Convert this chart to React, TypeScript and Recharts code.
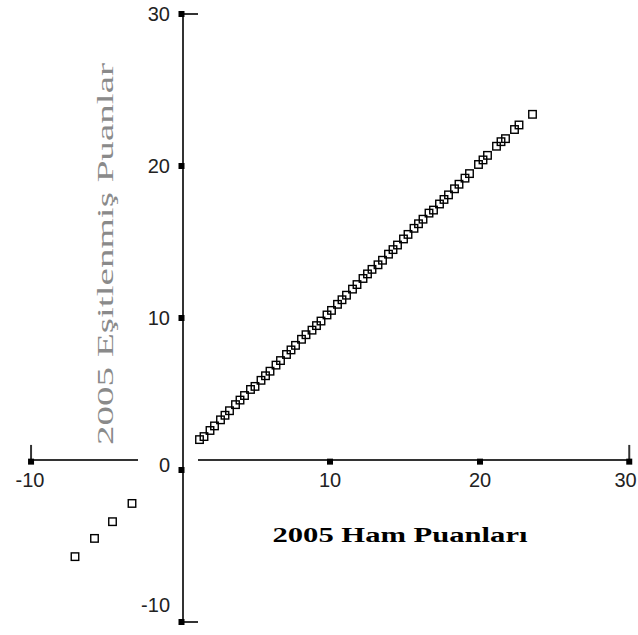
import React from 'react';
import { ScatterChart, Scatter, XAxis, YAxis, ReferenceLine, ReferenceDot } from 'recharts';

// 2005 raw scores (x) and equated scores (y)
const rawScores = [
  1.3, 1.6, 2.0, 2.3, 2.7, 3.0, 3.3, 3.7, 4.0, 4.3, 4.7, 5.0, 5.4, 5.7, 6.0, 6.4,
  6.7, 7.1, 7.4, 7.7, 8.1, 8.4, 8.8, 9.1, 9.4, 9.8, 10.1, 10.5, 10.8, 11.1, 11.5,
  11.8, 12.2, 12.5, 12.8, 13.2, 13.5, 13.9, 14.2, 14.5, 14.9, 15.2, 15.6, 15.9,
  16.2, 16.6, 16.9, 17.3, 17.6, 17.9, 18.3, 18.6, 19.0, 19.3, 19.9, 20.2, 20.5,
  21.1, 21.4, 21.7, 22.3, 22.6, 23.5,
];
const equatedScores = [
  2.0, 2.2, 2.6, 2.9, 3.3, 3.6, 3.9, 4.3, 4.6, 4.9, 5.3, 5.5, 5.9, 6.2, 6.5, 6.9,
  7.2, 7.6, 7.9, 8.2, 8.6, 8.9, 9.2, 9.5, 9.8, 10.2, 10.5, 10.9, 11.2, 11.5, 11.9,
  12.2, 12.6, 12.9, 13.2, 13.5, 13.8, 14.2, 14.5, 14.8, 15.2, 15.5, 15.9, 16.2,
  16.5, 16.9, 17.1, 17.5, 17.8, 18.1, 18.5, 18.8, 19.2, 19.5, 20.1, 20.4, 20.7,
  21.3, 21.6, 21.8, 22.4, 22.7, 23.4,
];
const lowRawScores = [-7.0, -5.7, -4.5, -3.2];
const lowEquatedScores = [-5.7, -4.5, -3.4, -2.2];

const xTickValues = [-10, 10, 20, 30];
const yTickValues = [30, 20, 10, 0, -10];

const points = rawScores.map((x, i) => ({ x, y: equatedScores[i] }))
  .concat(lowRawScores.map((x, i) => ({ x, y: lowEquatedScores[i] })));

const AXIS = '#333';
const X_AXIS_Y = 0.66; // the SPSS x axis sits a little above y=0
const Y_AXIS_X = 0.2;

const SquareMark = (props: any) => (
  <rect x={props.cx - 3.75} y={props.cy - 3.75} width={7.5} height={7.5}
    fill="none" stroke="#000" strokeWidth={1.4} />
);

const TickSquare = (props: any) => (
  <rect x={props.cx - 3} y={props.cy - 3} width={6} height={6} fill="#000" />
);

const tickFont = { fontSize: 20, fontFamily: 'Liberation Sans, Arial, sans-serif', fill: '#222' };

// y tick labels are drawn a little off their ticks near the bottom
const yLabelPos = (v: number) => (v === 0 ? 0.33 : v === -10 ? -8.9 : v);
// keep the last x label inside the picture
const xLabelPos = (v: number) => (v === 30 ? 29.7 : v);

export default function App() {
  return (
    <div style={{ position: 'absolute', left: 0, top: 0, width: 638, height: 635, background: '#fff', overflow: 'hidden' }}>
      <ScatterChart width={638} height={635} margin={{ top: 14, right: 8, bottom: 13, left: 30 }}>
        <XAxis type="number" dataKey="x" domain={[-10, 30]} hide allowDataOverflow />
        <YAxis type="number" dataKey="y" domain={[-10, 30]} hide allowDataOverflow />

        {/* axis lines */}
        <ReferenceLine segment={[{ x: -10, y: X_AXIS_Y }, { x: -2.8, y: X_AXIS_Y }]} stroke={AXIS} strokeWidth={2} />
        <ReferenceLine segment={[{ x: 1.2, y: X_AXIS_Y }, { x: 30, y: X_AXIS_Y }]} stroke={AXIS} strokeWidth={2} />
        <ReferenceLine segment={[{ x: Y_AXIS_X, y: -10 }, { x: Y_AXIS_X, y: 30 }]} stroke={AXIS} strokeWidth={2} />

        {/* odd little tick stems at the axis ends */}
        <ReferenceLine segment={[{ x: Y_AXIS_X, y: 30 }, { x: 1.2, y: 30 }]} stroke={AXIS} strokeWidth={2} />
        <ReferenceLine segment={[{ x: Y_AXIS_X, y: -10 }, { x: 1.2, y: -10 }]} stroke={AXIS} strokeWidth={2} />
        <ReferenceLine segment={[{ x: -9.93, y: X_AXIS_Y }, { x: -9.93, y: 1.65 }]} stroke={AXIS} strokeWidth={2} />
        <ReferenceLine segment={[{ x: 29.95, y: X_AXIS_Y }, { x: 29.95, y: 1.65 }]} stroke={AXIS} strokeWidth={2} />

        {xTickValues.map((v) => (
          <ReferenceDot key={'xs' + v} x={v === -10 ? -9.93 : v === 30 ? 29.95 : v} y={0.55} r={3} shape={TickSquare} />
        ))}
        {yTickValues.map((v) => (
          <ReferenceDot key={'ys' + v} x={0.1} y={v} r={3} shape={TickSquare} />
        ))}

        {xTickValues.map((v) => (
          <ReferenceDot key={'xl' + v} x={xLabelPos(v)} y={-0.66} r={0} stroke="none" fill="none"
            label={{ value: String(v), position: 'center', ...tickFont }} />
        ))}
        {yTickValues.map((v) => (
          <ReferenceDot key={'yl' + v} x={0} y={yLabelPos(v)} r={0} stroke="none" fill="none"
            label={{ value: String(v), position: 'left', offset: 10, ...tickFont }} />
        ))}

        <Scatter data={points} shape={SquareMark} isAnimationActive={false} />
      </ScatterChart>

      <svg width={638} height={635} style={{ position: 'absolute', left: 0, top: 0, pointerEvents: 'none' }}>
        <text transform="translate(113,254) rotate(-90)" textAnchor="middle"
          textLength={382} lengthAdjust="spacingAndGlyphs"
          fontSize={24} fontFamily="Liberation Serif, Times New Roman, serif" fill="#8a8a8a">
          2005 Eşitlenmiş Puanlar
        </text>
        <text x={400} y={542} textAnchor="middle"
          textLength={255} lengthAdjust="spacingAndGlyphs"
          fontSize={20} fontWeight="bold" fontFamily="Liberation Serif, Times New Roman, serif" fill="#000">
          2005 Ham Puanları
        </text>
      </svg>
    </div>
  );
}
